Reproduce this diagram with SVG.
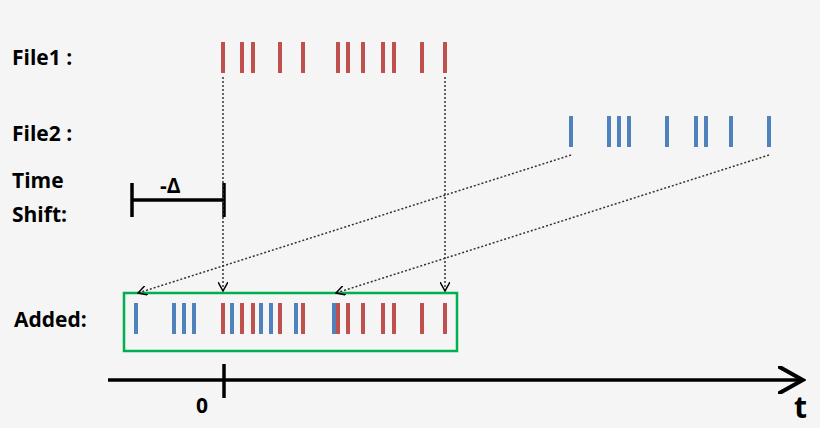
<svg xmlns="http://www.w3.org/2000/svg" width="820" height="428" viewBox="0 0 820 428">
<style>
.lbl{font-family:"Open Sans","Liberation Sans",sans-serif;font-weight:bold;font-size:21px;fill:#000}
.r{fill:#c0504d}.b{fill:#4f81bd}
.dot{stroke:#333;stroke-width:1.5;stroke-dasharray:2 2;fill:none}
</style>
<defs>
<marker id="v" viewBox="0 0 10 10" refX="9" refY="5" markerWidth="10" markerHeight="10" markerUnits="userSpaceOnUse" orient="auto"><path d="M0,0 L9,5 L0,10" fill="none" stroke="#000" stroke-width="1.5"/></marker>
<marker id="ax" viewBox="0 0 10 10" refX="8" refY="5" markerWidth="8" markerHeight="8" orient="auto"><path d="M0,0 L9,5 L0,10" fill="none" stroke="#000" stroke-width="1.5"/></marker>
</defs>
<rect width="820" height="428" fill="#f5f5f5"/>
<g id="labels">
<text class="lbl" x="12" y="65">File1 :</text>
<text class="lbl" x="12" y="141">File2 :</text>
<text class="lbl" x="12" y="188">Time</text>
<text class="lbl" x="12" y="222">Shift:</text>
<text class="lbl" x="14" y="327">Added:</text>
</g>
<g id="file1">
<rect class="r" x="221" y="42" width="4" height="31"/><rect class="r" x="240" y="42" width="4" height="31"/><rect class="r" x="251" y="42" width="4" height="31"/><rect class="r" x="278" y="42" width="4" height="31"/><rect class="r" x="301" y="42" width="4" height="31"/><rect class="r" x="336" y="42" width="4" height="31"/><rect class="r" x="346" y="42" width="4" height="31"/><rect class="r" x="361" y="42" width="4" height="31"/><rect class="r" x="381" y="42" width="4" height="31"/><rect class="r" x="392" y="42" width="4" height="31"/><rect class="r" x="420" y="42" width="4" height="31"/><rect class="r" x="443" y="42" width="4" height="31"/>
</g>
<g id="file2">
<rect class="b" x="569" y="116" width="4" height="31"/><rect class="b" x="607" y="116" width="4" height="31"/><rect class="b" x="617" y="116" width="4" height="31"/><rect class="b" x="627" y="116" width="4" height="31"/><rect class="b" x="665" y="116" width="4" height="31"/><rect class="b" x="694" y="116" width="4" height="31"/><rect class="b" x="704" y="116" width="4" height="31"/><rect class="b" x="729" y="116" width="4" height="31"/><rect class="b" x="767" y="116" width="4" height="31"/>
</g>
<g id="timeshift" stroke="#000" stroke-width="3.5">
<line x1="132" y1="200" x2="224" y2="200"/><line x1="132" y1="183" x2="132" y2="217"/><line x1="224" y1="183" x2="224" y2="217"/>
<text x="160" y="193" stroke="none" font-family="Open Sans,Liberation Sans,sans-serif" font-weight="bold" font-size="21">-Δ</text>
</g>
<g id="added">
<rect x="124" y="293" width="333" height="58" fill="none" stroke="#00b050" stroke-width="2.5"/>
<rect class="b" x="134" y="303" width="4" height="31"/><rect class="b" x="172" y="303" width="4" height="31"/><rect class="b" x="182" y="303" width="4" height="31"/><rect class="b" x="192" y="303" width="4" height="31"/>
<rect class="r" x="221" y="303" width="4" height="31"/><rect class="b" x="230" y="303" width="4" height="31"/><rect class="r" x="240" y="303" width="4" height="31"/><rect class="r" x="251" y="303" width="4" height="31"/><rect class="b" x="259" y="303" width="4" height="31"/><rect class="b" x="269" y="303" width="4" height="31"/><rect class="r" x="278" y="303" width="4" height="31"/><rect class="b" x="294" y="303" width="4" height="31"/><rect class="r" x="301" y="303" width="4" height="31"/>
<rect class="b" x="332" y="303" width="4" height="31"/><rect class="r" x="336" y="303" width="4" height="31"/><rect class="r" x="346" y="303" width="4" height="31"/><rect class="r" x="361" y="303" width="4" height="31"/><rect class="r" x="381" y="303" width="4" height="31"/><rect class="r" x="392" y="303" width="4" height="31"/><rect class="r" x="420" y="303" width="4" height="31"/><rect class="r" x="443" y="303" width="4" height="31"/>
</g>
<g id="connectors">
<line class="dot" x1="223" y1="77" x2="223" y2="291" marker-end="url(#v)"/>
<line class="dot" x1="445" y1="77" x2="445" y2="291" marker-end="url(#v)"/>
<line class="dot" x1="571" y1="155" x2="138" y2="293" marker-end="url(#v)"/>
<line class="dot" x1="769" y1="155" x2="336" y2="293" marker-end="url(#v)"/>
</g>
<g id="axis">
<line x1="108" y1="380" x2="800" y2="380" stroke="#000" stroke-width="3.5" marker-end="url(#ax)"/>
<line x1="224" y1="364" x2="224" y2="398" stroke="#000" stroke-width="3.5"/>
<text class="lbl" x="196" y="413">0</text>
<text x="794" y="418" font-family="Open Sans,Liberation Sans,sans-serif" font-weight="bold" font-size="30">t</text>
</g>
</svg>
